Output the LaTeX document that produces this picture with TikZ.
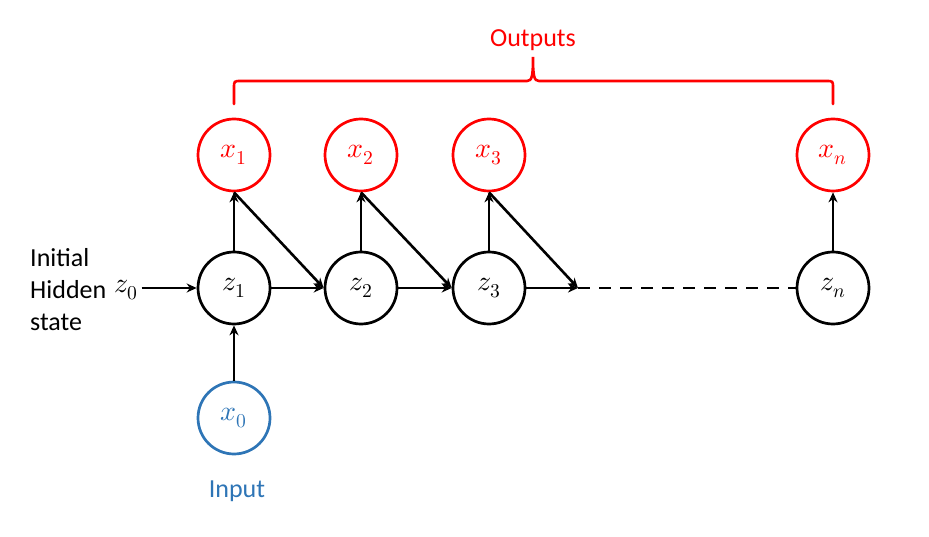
\documentclass[tikz,border=0pt]{standalone}
\usepackage{fontspec}
\usepackage{unicode-math}
\setmainfont{Carlito}
\setmathfont{Latin Modern Math}
\usetikzlibrary{arrows.meta}
\definecolor{myred}{RGB}{255,0,0}
\definecolor{myblue}{RGB}{46,117,182}
\begin{document}
\begin{tikzpicture}[x=1pt,y=-1pt,
  cell/.style={circle,draw,line width=2.7pt,minimum size=72pt,inner sep=0pt,font=\fontsize{28}{30}\selectfont},
  outcell/.style={cell,draw=myred,text=myred},
  incell/.style={cell,draw=myblue,text=myblue},
  arr/.style={line width=2.6pt,-{Stealth[length=10pt,width=9pt]}},
  lab/.style={font=\fontsize{26}{32}\selectfont}]
\useasboundingbox (0,0) rectangle (929,537);
\node[outcell] (x1) at (234,155) {$x_1$};
\node[outcell] (x2) at (361,155) {$x_2$};
\node[outcell] (x3) at (489,155) {$x_3$};
\node[outcell] (xn) at (833,155) {$x_n$};
\node[cell] (z1) at (234,288) {$z_1$};
\node[cell] (z2) at (361,288) {$z_2$};
\node[cell] (z3) at (489,288) {$z_3$};
\node[cell] (zn) at (833,288) {$z_n$};
\node[incell] (x0) at (234,418) {$x_0$};
\node[lab,text=myblue] (inp) at (237,491) {Input};
\node[lab,text=myred] (outp) at (533,40) {Outputs};
\node[lab,align=left,anchor=west,inner sep=0pt] (init) at (30,290) {Initial\\Hidden\\state};
\node[font=\fontsize{28}{30}\selectfont,anchor=west,inner sep=0pt] (z0) at (114,290) {$z_0$};
\draw[arr] (z0.east |- z1.west) ++(4,0) -- (z1.west);
\coordinate (d) at (578,288);
\draw[arr] (x0) -- (z1);
\draw[arr] (z1) -- (x1);
\draw[arr] (z2) -- (x2);
\draw[arr] (z3) -- (x3);
\draw[arr] (zn) -- (xn);
\draw[arr] (z1) -- (z2);
\draw[arr] (z2) -- (z3);
\draw[arr] (z3) -- (d);
\draw[arr] (x1.south) -- (z2.west);
\draw[arr] (x2.south) -- (z3.west);
\draw[arr] (x3.south) -- (d);
\draw[line width=2.6pt,dash pattern=on 12pt off 9pt] (d) -- (zn.west);
\draw[myred,line width=2.6pt,line cap=round]
  (234,104) -- (234,88) .. controls (234,81) .. (241,81) -- (527,81)
  .. controls (532,81) and (533,76) .. (533,57)
  .. controls (533,76) and (534,81) .. (539,81) -- (826,81)
  .. controls (833,81) .. (833,88) -- (833,104);
\end{tikzpicture}
\end{document}
